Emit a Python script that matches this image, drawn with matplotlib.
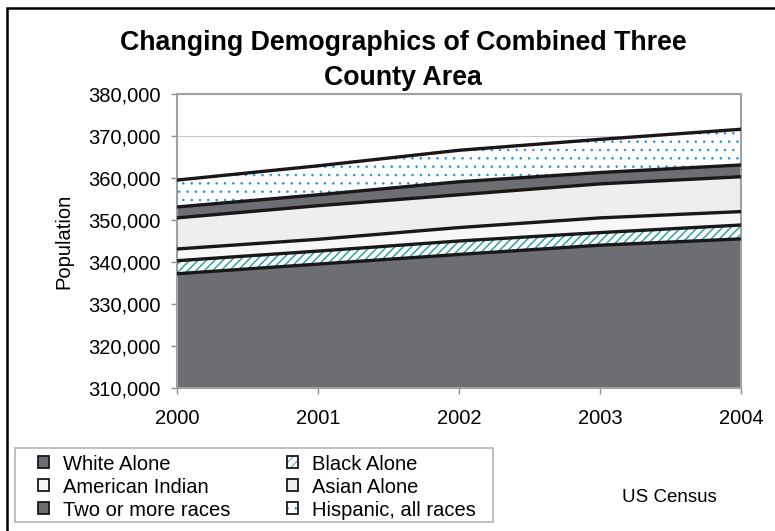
import numpy as np
import matplotlib
matplotlib.use('Agg')
import matplotlib.pyplot as plt
from matplotlib.patches import Patch, Rectangle

plt.rcParams['font.family'] = ['Liberation Sans', 'DejaVu Sans']

years = [2000, 2001, 2002, 2003, 2004]
white = [337200, 339500, 341800, 344000, 345500]
black = [3100, 3100, 3200, 3000, 3300]
am_indian = [2800, 2800, 3200, 3500, 3200]
asian = [7400, 8000, 7800, 8100, 8300]
two_more = [2600, 2600, 3100, 2700, 2800]
hispanic = [6400, 6900, 7500, 7900, 8500]

labels = ['White Alone', 'Black Alone', 'American Indian', 'Asian Alone',
          'Two or more races', 'Hispanic, all races']
series = [white, black, am_indian, asian, two_more, hispanic]
faces = ['#6d6e72', 'white', '#f7f7f7', '#eeeeee', '#6d6e72', 'white']
hatches = [None, '////', None, None, None, '..']
hatch_cols = [None, '#2fa3a6', None, None, None, '#2a93d2']
hatch_lw = [1, 1.1, 1, 1, 1, 0.6]

fig = plt.figure(figsize=(7.75, 5.31), dpi=100)
ax = fig.add_axes([0.2284, 0.2693, 0.7277, 0.5537])

# outer chart border
fig.patches.append(Rectangle((7 / 775, -0.05), 1.1, 1 - 8 / 531 + 0.05, transform=fig.transFigure,
                             fill=False, edgecolor='black', linewidth=1.8, clip_on=False))

tops = np.cumsum(np.array(series), axis=0)
bottom = np.full(len(years), 300000)
for i in range(len(series)):
    top = tops[i]
    ax.fill_between(years, bottom, top, facecolor=faces[i], linewidth=0, zorder=2)
    if hatches[i]:
        plt.rcParams['hatch.linewidth'] = hatch_lw[i]
        ax.fill_between(years, bottom, top, facecolor='none', edgecolor=hatch_cols[i],
                        hatch=hatches[i], linewidth=0, zorder=2)
    ax.plot(years, top, color='#1a1718', linewidth=2.4, zorder=3)
    bottom = top

ax.set_xlim(2000, 2004)
ax.set_ylim(310000, 380000)
ax.set_xticks(years)
ax.set_yticks(np.arange(310000, 380001, 10000))
ax.yaxis.set_major_formatter(matplotlib.ticker.FuncFormatter(lambda v, p: f'{int(v):,}'))
ax.grid(axis='y', color='#c8c8c8', linewidth=0.8, zorder=0)
ax.set_axisbelow(True)
for s in ax.spines.values():
    s.set_color('#a0a0a0')
    s.set_linewidth(1.5)
ax.tick_params(axis='both', labelsize=14.5, color='#909090', length=4.5, width=1)
ax.tick_params(axis='x', pad=10.5)
ax.tick_params(axis='y', pad=7)
ax.set_ylabel('Population', fontsize=14.5, labelpad=11)

fig.text(0.52, 1 - 50 / 531, 'Changing Demographics of Combined Three', ha='center',
         va='baseline', fontsize=19.3, fontweight='bold')
fig.text(0.52, 1 - 85 / 531, 'County Area', ha='center', va='baseline', fontsize=19.3,
         fontweight='bold')

handles = []
for i in range(len(series)):
    box = Patch(facecolor='none', edgecolor='#1a1718', linewidth=1.3)
    if hatches[i]:
        handles.append((Patch(facecolor=faces[i], edgecolor=hatch_cols[i], hatch=hatches[i],
                              linewidth=0), box))
    else:
        handles.append((Patch(facecolor=faces[i], linewidth=0), box))
order = [0, 2, 4, 1, 3, 5]

# legend frame
fig.patches.append(Rectangle((15 / 775, 1 - 522 / 531), 478 / 775, 74 / 531,
                             transform=fig.transFigure, facecolor='white',
                             edgecolor='#b4b4b4', linewidth=1.2, zorder=1))
leg = fig.legend([handles[i] for i in order], [labels[i] for i in order], ncol=2,
                 loc='upper left', bbox_to_anchor=(38 / 775, 1 - 454.5 / 531),
                 fontsize=14.5, frameon=False,
                 handlelength=0.55, handleheight=0.55, handletextpad=0.7,
                 labelspacing=0.2, borderpad=0, columnspacing=2.8, borderaxespad=0)
leg.set_zorder(3)

fig.text(0.864, 1 - 497 / 531, 'US Census', ha='center', va='center', fontsize=13.5)

fig.savefig('out.png', dpi=100)
